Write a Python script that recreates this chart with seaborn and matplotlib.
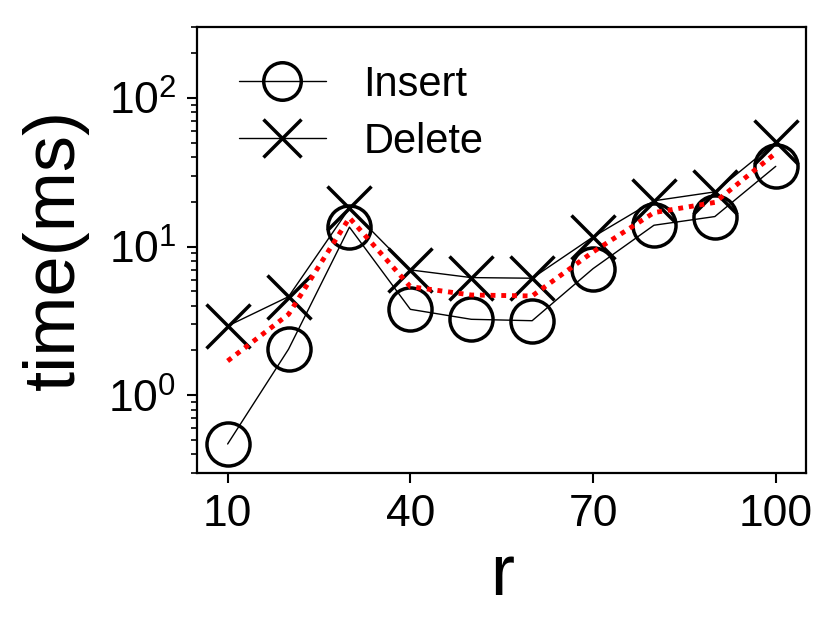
import matplotlib
matplotlib.use("Agg")
import matplotlib.pyplot as plt
import seaborn as sns
import numpy as np
import pandas as pd
from matplotlib.ticker import LogLocator, NullFormatter

r_values = [10, 20, 30, 40, 50, 60, 70, 80, 90, 100]
insert_ms = [0.47, 2.04, 13.5, 3.78, 3.24, 3.17, 7.1, 13.9, 15.9, 34.6]
delete_ms = [2.92, 4.6, 18.1, 6.96, 6.18, 6.12, 11.6, 20.3, 23.3, 50.2]
avg_ms = [1.70, 3.5, 15.6, 5.37, 4.72, 4.65, 9.2, 16.9, 19.8, 42.5]
x_ticks = [10, 40, 70, 100]

sns.set_theme(style="ticks")
plt.rcParams['font.family'] = ['Liberation Sans', 'DejaVu Sans']
plt.rcParams['mathtext.fontset'] = 'custom'
plt.rcParams['mathtext.rm'] = 'Liberation Sans'
plt.rcParams['mathtext.it'] = 'Liberation Sans:italic'
plt.rcParams['text.color'] = 'black'
plt.rcParams['axes.labelcolor'] = 'black'
plt.rcParams['xtick.color'] = 'black'
plt.rcParams['ytick.color'] = 'black'

df = pd.DataFrame({"r": r_values, "Insert": insert_ms, "Delete": delete_ms, "Avg": avg_ms})

fig = plt.figure(figsize=(8.32, 6.24), dpi=100)
ax = fig.add_axes([0.237, 0.242, 0.732, 0.715])

sns.lineplot(data=df, x="r", y="Insert", ax=ax, color="black", linewidth=1.0,
             marker="o", markersize=31, markerfacecolor="none", markeredgecolor="black",
             markeredgewidth=2.5, label="Insert")
sns.lineplot(data=df, x="r", y="Delete", ax=ax, color="black", linewidth=1.0,
             marker="x", markersize=31, markeredgecolor="black",
             markeredgewidth=2.5, label="Delete")
sns.lineplot(data=df, x="r", y="Avg", ax=ax, color="red", linewidth=3.5,
             linestyle=(0, (1, 1.2)), label="_nolegend_")

ax.set_yscale("log")
ax.set_ylim(0.3, 300)
ax.set_xlim(5, 105)
ax.set_xticks(x_ticks)
ax.set_xticklabels([str(t) for t in x_ticks])
ax.yaxis.set_major_locator(LogLocator(base=10, numticks=10))
ax.yaxis.set_minor_locator(LogLocator(base=10, subs=np.arange(2, 10), numticks=20))
ax.yaxis.set_minor_formatter(NullFormatter())

ax.set_xlabel("r", fontsize=52, labelpad=6)
ax.set_ylabel("time(ms)", fontsize=52, labelpad=14)
ax.tick_params(axis="both", which="major", labelsize=32, length=7, width=1.5, direction="out", pad=8, color="black", labelcolor="black")
ax.tick_params(axis="y", which="minor", length=4, width=1.2, direction="out", color="black")
for s in ax.spines.values():
    s.set_linewidth(1.6)
    s.set_color("black")
    s.set_visible(True)

leg = ax.legend(loc="upper left", frameon=False, fontsize=30, handlelength=2.1,
                handletextpad=0.9, labelspacing=0.4, borderaxespad=0.3,
                bbox_to_anchor=(0.02, 0.98))
for h in leg.legend_handles:
    h.set_markersize(27)
for t in leg.get_texts():
    t.set_color("black")

fig.savefig("out.png", dpi=100)
